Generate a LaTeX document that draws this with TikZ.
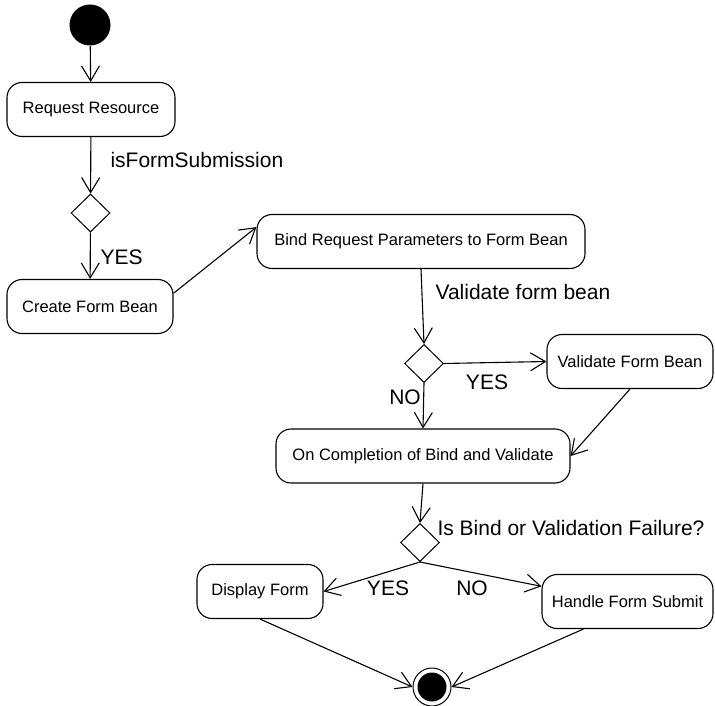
\documentclass[tikz,border=0pt]{standalone}
\usepackage{fontspec}
\setmainfont{Liberation Sans}
\usetikzlibrary{shapes.geometric,arrows.meta}

\begin{document}
\begin{tikzpicture}[x=1pt,y=-1pt,line width=1.1pt,
    act/.style={draw,rounded corners=15pt,minimum height=54pt,inner sep=0pt,font=\fontsize{16.5}{18}\selectfont},
    choice/.style={draw,diamond,line width=1pt,minimum width=39pt,minimum height=38pt,inner sep=0pt},
    guard/.style={font=\fontsize{21}{24}\selectfont,inner sep=0pt},
    flow/.style={-{Straight Barb[length=15pt,width=18pt]}}]
    \useasboundingbox (0,0) rectangle (715,706);

    % Start
    \node[circle,fill=black,minimum size=41pt,inner sep=0pt] (start) at (90,25) {};

    % Left column
    \node[act,minimum width=168pt] (request) at (91,109.5) {Request Resource};
    \node[choice] (isform) at (90.5,213) {};
    \node[act,minimum width=166pt] (create) at (90,306.5) {Create Form Bean};

    % Bind and validate
    \node[act,minimum width=328pt] (bind) at (421,241.5) {Bind Request Parameters to Form Bean};
    \node[choice] (isvalid) at (424,363.5) {};
    \node[act,minimum width=166pt] (validate) at (630,361.5) {Validate Form Bean};
    \node[act,minimum width=294pt] (complete) at (423,456) {On Completion of Bind and Validate};

    % Outcome
    \node[choice] (isfail) at (420,542.5) {};
    \node[act,minimum width=126pt] (display) at (260,591.5) {Display Form};
    \node[act,minimum width=171pt] (handle) at (627.5,601.5) {Handle Form Submit};

    % End
    \node[circle,draw,line width=1pt,minimum size=38pt,inner sep=0pt] (end) at (432,687) {};
    \fill (end.center) circle (14.5pt);

    % Arrows
    \draw[flow] (start) -- (request);
    \draw[flow] (request) -- (isform);
    \draw[flow] (isform) -- (create);
    \draw[flow] (create.9) -- (bind.175);
    \draw[flow] (bind.south) -- (isvalid.north);
    \draw[flow] (isvalid.east) -- (validate.west);
    \draw[flow] (isvalid.south) -- (complete.north);
    \draw[flow] (validate.south) -- (complete.east);
    \draw[flow] (complete.south) -- (isfail.north);
    \draw[flow] (isfail.south) -- (display.east);
    \draw[flow] (isfail.south) -- (handle.170);
    \draw[flow] (display.south) -- (end.west);
    \draw[flow] (handle.212) -- (end.east);

    % Guard labels
    \node[guard,anchor=west] (lblsubmit) at (110,160) {isFormSubmission};
    \node[guard,anchor=west] (lblyes1) at (100,257) {YES};
    \node[guard,anchor=west] (lblbean) at (435,292) {Validate form bean};
    \node[guard] (lblyes2) at (487,382) {YES};
    \node[guard] (lblno2) at (405,397) {NO};
    \node[guard,anchor=west] (lblfail) at (437,528) {Is Bind or Validation Failure?};
    \node[guard] (lblyes3) at (388,588) {YES};
    \node[guard] (lblno3) at (472,588) {NO};
\end{tikzpicture}
\end{document}
